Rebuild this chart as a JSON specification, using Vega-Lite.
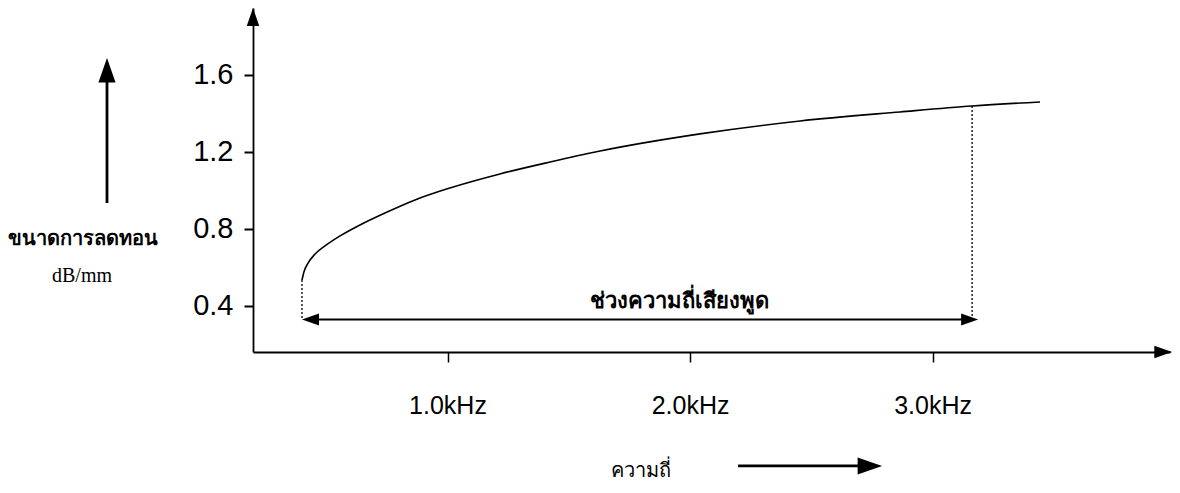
{
  "$schema": "https://vega.github.io/schema/vega-lite/v6.json",
  "width": 917,
  "height": 344,
  "autosize": {"type": "none"},
  "padding": {"left": 253, "top": 8, "right": 10, "bottom": 141},
  "background": "white",
  "config": {
    "view": {"stroke": null},
    "axis": {"grid": false, "domainColor": "black", "tickColor": "black", "labelColor": "black", "titleColor": "black"}
  },
  "datasets": {
    "curve": [
      {"f": 0.400, "v": 0.535},
      {"f": 0.408, "v": 0.577},
      {"f": 0.425, "v": 0.623},
      {"f": 0.454, "v": 0.670},
      {"f": 0.495, "v": 0.712},
      {"f": 0.557, "v": 0.764},
      {"f": 0.639, "v": 0.821},
      {"f": 0.742, "v": 0.883},
      {"f": 0.866, "v": 0.951},
      {"f": 1.010, "v": 1.013},
      {"f": 1.216, "v": 1.086},
      {"f": 1.423, "v": 1.148},
      {"f": 1.629, "v": 1.205},
      {"f": 2.041, "v": 1.294},
      {"f": 2.454, "v": 1.361},
      {"f": 2.866, "v": 1.408},
      {"f": 3.163, "v": 1.439},
      {"f": 3.443, "v": 1.460}
    ],
    "dotted": [
      {"f": 0.40, "v1": 0.535, "v2": 0.33},
      {"f": 3.163, "v1": 1.439, "v2": 0.33}
    ],
    "range": [
      {"f1": 0.43, "f2": 3.16, "v": 0.33}
    ],
    "pointers": [
      {"name": "yarrow", "f1": -0.404, "f2": -0.404, "v1": 0.935, "v2": 1.62},
      {"name": "xarrow", "f1": 2.198, "f2": 2.74, "v1": -0.431, "v2": -0.431}
    ],
    "axisHeads": [
      {"f": 0.198, "v": 1.948, "dir": "up"},
      {"f": 3.988, "v": 0.161, "dir": "right"}
    ],
    "rangeHeads": [
      {"f": 0.400, "v": 0.33, "dir": "left"},
      {"f": 3.188, "v": 0.33, "dir": "right"}
    ],
    "pointerHeads": [
      {"f": -0.404, "v": 1.688, "dir": "up"},
      {"f": 2.792, "v": -0.431, "dir": "right"}
    ],
    "labels": [
      {"f": 1.955, "v": 0.39, "text": "ช่วงความถี่เสียงพูด"}
    ],
    "units": [
      {"f": -0.507, "v": 0.525, "text": "dB/mm"}
    ]
  },
  "resolve": {"scale": {"shape": "shared"}},
  "layer": [
    {
      "data": {"name": "curve"},
      "mark": {"type": "line", "color": "black", "strokeWidth": 1.6, "interpolate": "monotone"},
      "encoding": {
        "x": {
          "field": "f", "type": "quantitative",
          "scale": {"domain": [0.198, 3.979], "nice": false, "zero": false},
          "axis": {
            "values": [1, 2, 3],
            "labelExpr": "format(datum.value, '.1f') + 'kHz'",
            "labelFont": "Liberation Sans",
            "labelFontSize": 25,
            "labelBaseline": "alphabetic",
            "labelPadding": 51,
            "tickSize": 10,
            "tickWidth": 1.5,
            "domainWidth": 1.8,
            "title": "ความถี่",
            "titleX": 387,
            "titleY": 124,
            "titleAlign": "center",
            "titleBaseline": "alphabetic",
            "titleFontSize": 20,
            "titleFontWeight": "normal"
          }
        },
        "y": {
          "field": "v", "type": "quantitative",
          "scale": {"domain": [0.161, 1.948], "nice": false, "zero": false},
          "axis": {
            "values": [0.4, 0.8, 1.2, 1.6],
            "format": ".1f",
            "labelFont": "Liberation Sans",
            "labelFontSize": 29,
            "labelPadding": 11,
            "tickSize": 9,
            "tickWidth": 2,
            "domainWidth": 1.8,
            "title": "ขนาดการลดทอน",
            "titleAngle": 0,
            "titleX": -171,
            "titleY": 236,
            "titleAlign": "center",
            "titleBaseline": "alphabetic",
            "titleFontSize": 20,
            "titleFontWeight": "bold"
          }
        }
      }
    },
    {
      "data": {"name": "dotted"},
      "mark": {"type": "rule", "color": "black", "strokeWidth": 1.3, "strokeDash": [2, 2]},
      "encoding": {
        "x": {"field": "f", "type": "quantitative"},
        "y": {"field": "v1", "type": "quantitative"},
        "y2": {"field": "v2"}
      }
    },
    {
      "data": {"name": "range"},
      "mark": {"type": "rule", "color": "black", "strokeWidth": 2},
      "encoding": {
        "x": {"field": "f1", "type": "quantitative"},
        "x2": {"field": "f2"},
        "y": {"field": "v", "type": "quantitative"}
      }
    },
    {
      "data": {"name": "pointers"},
      "mark": {"type": "rule", "color": "black", "strokeWidth": 2.8},
      "encoding": {
        "x": {"field": "f1", "type": "quantitative"},
        "x2": {"field": "f2"},
        "y": {"field": "v1", "type": "quantitative"},
        "y2": {"field": "v2"}
      }
    },
    {
      "data": {"name": "axisHeads"},
      "mark": {"type": "point", "filled": true, "color": "black", "opacity": 1, "size": 320, "strokeWidth": 0},
      "encoding": {
        "x": {"field": "f", "type": "quantitative"},
        "y": {"field": "v", "type": "quantitative"},
        "shape": {
          "field": "dir", "type": "nominal", "legend": null,
          "scale": {"domain": ["up", "right", "left"], "range": ["M0,0L0.7,2L-0.7,2Z", "M0,0L-2,-0.7L-2,0.7Z", "M0,0L2,-0.7L2,0.7Z"]}
        }
      }
    },
    {
      "data": {"name": "rangeHeads"},
      "mark": {"type": "point", "filled": true, "color": "black", "opacity": 1, "size": 290, "strokeWidth": 0},
      "encoding": {
        "x": {"field": "f", "type": "quantitative"},
        "y": {"field": "v", "type": "quantitative"},
        "shape": {"field": "dir", "type": "nominal", "legend": null}
      }
    },
    {
      "data": {"name": "pointerHeads"},
      "mark": {"type": "point", "filled": true, "color": "black", "opacity": 1, "size": 600, "strokeWidth": 0},
      "encoding": {
        "x": {"field": "f", "type": "quantitative"},
        "y": {"field": "v", "type": "quantitative"},
        "shape": {"field": "dir", "type": "nominal", "legend": null}
      }
    },
    {
      "data": {"name": "labels"},
      "mark": {"type": "text", "color": "black", "fontSize": 22, "fontWeight": "bold", "baseline": "alphabetic", "align": "center"},
      "encoding": {
        "x": {"field": "f", "type": "quantitative"},
        "y": {"field": "v", "type": "quantitative"},
        "text": {"field": "text"}
      }
    },
    {
      "data": {"name": "units"},
      "mark": {"type": "text", "color": "black", "fontSize": 20, "font": "Liberation Serif", "baseline": "alphabetic", "align": "center"},
      "encoding": {
        "x": {"field": "f", "type": "quantitative"},
        "y": {"field": "v", "type": "quantitative"},
        "text": {"field": "text"}
      }
    }
  ]
}
